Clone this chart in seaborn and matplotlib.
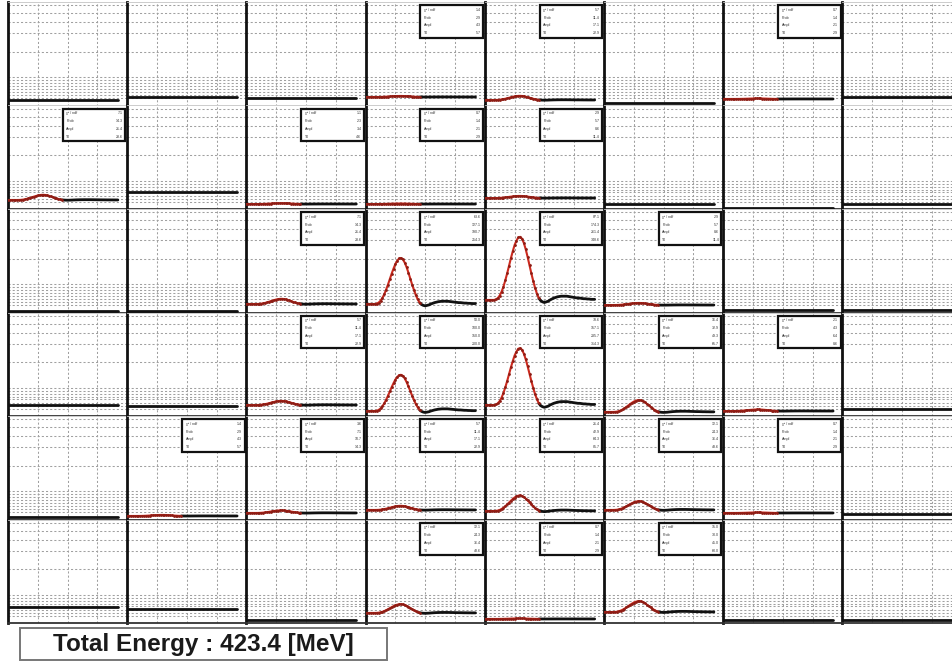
import numpy as np
import pandas as pd
import matplotlib
matplotlib.use("Agg")
import matplotlib.pyplot as plt
from matplotlib.patches import Rectangle
import seaborn as sns

sns.set_style("white")
plt.rcParams["font.family"] = ["Liberation Sans", "DejaVu Sans"]

# Channel map: 6 rows x 8 columns of readout channels
n_rows, n_cols = 6, 8

# Pedestal level of each channel (ADC counts)
pedestal = [
    [53, 82, 72, 82, 53, 24, 63, 82],
    [87, 164, 48, 48, 106, 48, 10, 48],
    [14, 14, 82, 82, 121, 72, 24, 24],
    [106, 97, 106, 48, 106, 39, 48, 68],
    [24, 34, 63, 92, 82, 92, 63, 53],
    [155, 135, 29, 97, 39, 106, 29, 29],
]

# Pulse amplitude of each channel (ADC counts above pedestal)
amplitude = [
    [0, 0, 0, 10, 40, 0, 5, 0],
    [50, 0, 8, 5, 20, 0, 0, 0],
    [0, 0, 50, 445, 610, 20, 0, 0],
    [0, 0, 40, 350, 550, 115, 15, 0],
    [0, 10, 25, 40, 150, 85, 5, 0],
    [0, 0, 0, 85, 5, 105, 0, 0],
]

# Channels with a fitted pulse (fit drawn in red, with fit box)
fitted = [
    [0, 0, 0, 1, 1, 0, 1, 0],
    [1, 0, 1, 1, 1, 0, 0, 0],
    [0, 0, 1, 1, 1, 1, 0, 0],
    [0, 0, 1, 1, 1, 1, 1, 0],
    [0, 1, 1, 1, 1, 1, 1, 0],
    [0, 0, 0, 1, 1, 1, 0, 0],
]

# Normalised pulse shape per time sample
pulse_shape = [
    0, 0, 0, 0, 0, 0, 0.01, 0.03, 0.07, 0.13,
    0.21, 0.31, 0.42, 0.54, 0.66, 0.77, 0.87, 0.94, 0.99, 1.0,
    0.97, 0.90, 0.80, 0.68, 0.55, 0.42, 0.30, 0.19, 0.10, 0.03,
    -0.01, -0.03, -0.04, -0.03, -0.02, 0.0, 0.015, 0.03, 0.04, 0.05,
    0.055, 0.06, 0.06, 0.06, 0.06, 0.055, 0.05, 0.045, 0.04, 0.035,
    0.03, 0.03, 0.025, 0.02, 0.02, 0.015, 0.015, 0.01, 0.01, 0.01,
]
samples = list(range(len(pulse_shape)))
fit_end = 29

fit_labels = ["\u03c7\u00b2 / ndf", "Prob", "Ampl", "T0"]
total_energy = 423.4

# Horizontal grid levels and vertical time grid
grid_y = [70, 100, 130, 160, 188, 217, 246, 275, 520, 700, 805, 890, 970]
grid_x = [16, 32, 48]

W, H = 952, 664
x0, top = 8, 2
pad_w, pad_h = 119.2, 103.5

fig = plt.figure(figsize=(W / 100, H / 100), dpi=100)
fig.patch.set_facecolor("white")

red = "#cc2a1e"

for r in range(n_rows):
    for c in range(n_cols):
        left = x0 + c * pad_w
        bottom_px = top + (r + 1) * pad_h
        ax = fig.add_axes([left / W, 1 - bottom_px / H, pad_w / W, pad_h / H])
        ax.set_xlim(0, 64)
        ax.set_ylim(0, 1000)
        ax.set_xticks(grid_x)
        ax.set_yticks(grid_y)
        ax.set_xticklabels([])
        ax.set_yticklabels([])
        ax.tick_params(length=0)
        ax.grid(True, color="#a0a0a0", linestyle=(0, (2, 2)), linewidth=0.75)
        ax.set_axisbelow(True)
        for side in ("top", "right"):
            ax.spines[side].set_color("#c4c4c4")
            ax.spines[side].set_linewidth(0.6)
        ax.spines["left"].set_color("#111111")
        ax.spines["left"].set_linewidth(2.0)
        ax.spines["bottom"].set_color("#333333")
        ax.spines["bottom"].set_linewidth(1.3)

        wave = [pedestal[r][c] + amplitude[r][c] * s for s in pulse_shape]
        df = pd.DataFrame({"sample": samples, "adc": wave})

        if fitted[r][c]:
            head = df[df["sample"] <= fit_end]
            tail = df[df["sample"] >= fit_end]
            sns.lineplot(data=tail, x="sample", y="adc", ax=ax, color="#111111",
                         linewidth=2.0, zorder=3)
            sns.lineplot(data=head, x="sample", y="adc", ax=ax, color=red,
                         linewidth=1.5, marker="o", markersize=2.0,
                         markeredgewidth=0, markerfacecolor="#8c1c14", zorder=4)
            # fit result box
            ax.add_patch(Rectangle((0.46, 0.655), 0.525, 0.315,
                                   transform=ax.transAxes, facecolor="white",
                                   edgecolor="#111111", linewidth=1.6, zorder=5))
            for k, lab in enumerate(fit_labels):
                yk = 0.925 - k * 0.075
                ax.text(0.49, yk, lab, transform=ax.transAxes, fontsize=2.6,
                        ha="left", va="center", color="#333333", zorder=6)
                val = f"{amplitude[r][c] * (k + 1) / 7.0:.1f}"
                ax.text(0.965, yk, val, transform=ax.transAxes, fontsize=2.6,
                        ha="right", va="center", color="#333333", zorder=6)
        else:
            sns.lineplot(data=df, x="sample", y="adc", ax=ax, color="#111111",
                         linewidth=2.0, zorder=3)
        ax.set_xlabel("")
        ax.set_ylabel("")

# Total energy label
fig.patches.append(Rectangle((20 / W, 1 - 660 / H), 367 / W, 32 / H,
                             transform=fig.transFigure, facecolor="white",
                             edgecolor="#777777", linewidth=1.4))
fig.text(203 / W, 1 - 645 / H, f"Total Energy : {total_energy} [MeV]",
         ha="center", va="center", fontsize=17.5, fontweight="bold",
         color="#1a1a1a")

fig.savefig("out.png", dpi=100, facecolor="white")
